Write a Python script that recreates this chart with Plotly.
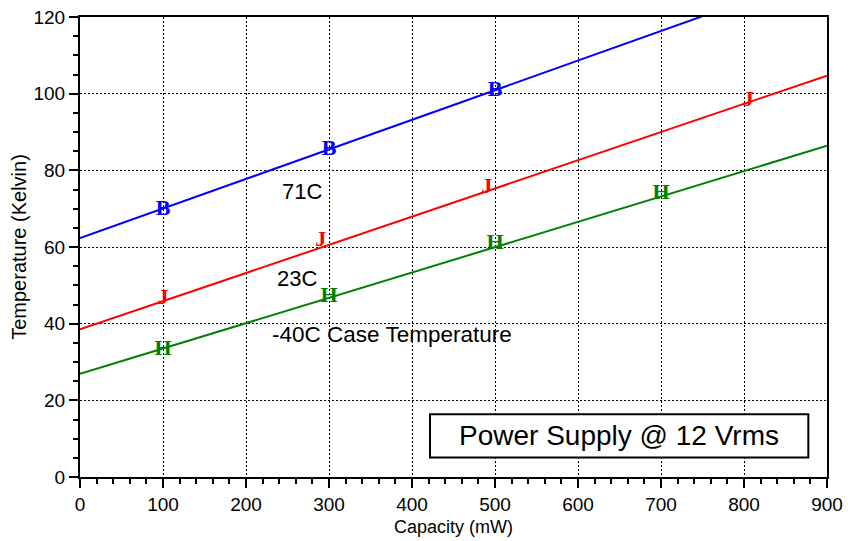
import plotly.graph_objects as go

# Data
line_x = [0, 900]
blue_line_y = [62.3, 131.8]
red_line_y = [38.5, 104.7]
green_line_y = [26.9, 86.4]

blue_pts_x = [100, 300, 500]
blue_pts_y = [69.8, 85.4, 100.9]
red_pts_x = [100, 290, 490, 805]
red_pts_y = [46.5, 61.6, 75.4, 98.2]
green_pts_x = [100, 300, 500, 700]
green_pts_y = [33.3, 47.0, 60.8, 74.0]

x_ticks = [0, 100, 200, 300, 400, 500, 600, 700, 800, 900]
y_ticks = [0, 20, 40, 60, 80, 100, 120]

FONT = "Liberation Sans, Arial, sans-serif"
SERIF = "Liberation Serif, Times New Roman, serif"

fig = go.Figure()

series = [
    (blue_line_y, blue_pts_x, blue_pts_y, "#0000FF", "B", "71C"),
    (red_line_y, red_pts_x, red_pts_y, "#FF0000", "J", "23C"),
    (green_line_y, green_pts_x, green_pts_y, "#008000", "H", "-40C"),
]
for ly, px, py, col, letter, name in series:
    fig.add_trace(go.Scatter(x=line_x, y=ly, mode="lines",
                             line=dict(color=col, width=2), showlegend=False,
                             hoverinfo="skip"))
    fig.add_trace(go.Scatter(x=px, y=py, mode="text", text=["<b>%s</b>" % letter] * len(px),
                             textposition="middle center",
                             textfont=dict(family=SERIF, size=22, color=col),
                             showlegend=False, name=name))

axis_common = dict(
    showline=True, linewidth=2, linecolor="black", mirror=True,
    ticks="outside", ticklen=9, tickwidth=2, tickcolor="black",
    showgrid=True, gridcolor="black", gridwidth=1, griddash="2px,2px",
    zeroline=False, automargin=False, ticklabeloverflow="allow",
)

fig.update_xaxes(range=[0, 900], tickvals=x_ticks, ticktext=[str(v) for v in x_ticks],
                 tickfont=dict(family=FONT, size=19, color="black"),
                 ticklabelstandoff=0,
                 title=dict(text="Capacity (mW)", font=dict(family=FONT, size=18, color="black"), standoff=7),
                 minor=dict(dtick=20, tick0=0, ticks="outside", ticklen=5, tickwidth=2,
                            tickcolor="black", showgrid=False),
                 **axis_common)
fig.update_yaxes(range=[0, 120], tickvals=y_ticks, ticktext=[str(v) for v in y_ticks],
                 tickfont=dict(family=FONT, size=19, color="black"),
                 ticklabelstandoff=0,
                 title=dict(text="Temperature (Kelvin)", font=dict(family=FONT, size=20, color="black"), standoff=1),
                 minor=dict(dtick=5, tick0=0, ticks="outside", ticklen=5, tickwidth=2,
                            tickcolor="black", showgrid=False),
                 **axis_common)

fig.add_shape(type="rect", x0=421.7, x1=877.5, y0=5.1, y1=16.4, xref="x", yref="y",
              line=dict(color="black", width=2), fillcolor="white", layer="above")

annots = [
    ("71C", 268, 74.4, 22),
    ("23C", 262, 51.8, 22),
    ("-40C Case Temperature", 376.3, 37.2, 22.5),
    ("Power Supply @ 12 Vrms", 649.6, 10.75, 28),
]
for t, x, y, s in annots:
    fig.add_annotation(x=x, y=y, text=t, showarrow=False, xanchor="center", yanchor="middle",
                       font=dict(family=FONT, size=s, color="black"))

fig.update_layout(width=848, height=541, margin=dict(l=80, r=21, t=17, b=64),
                  plot_bgcolor="white", paper_bgcolor="white", showlegend=False)

# remove the default 8px page margin so the figure fills the window exactly
fig.write_html("out.html", config={"displayModeBar": False},
               post_script="document.body.style.margin='0px';")
